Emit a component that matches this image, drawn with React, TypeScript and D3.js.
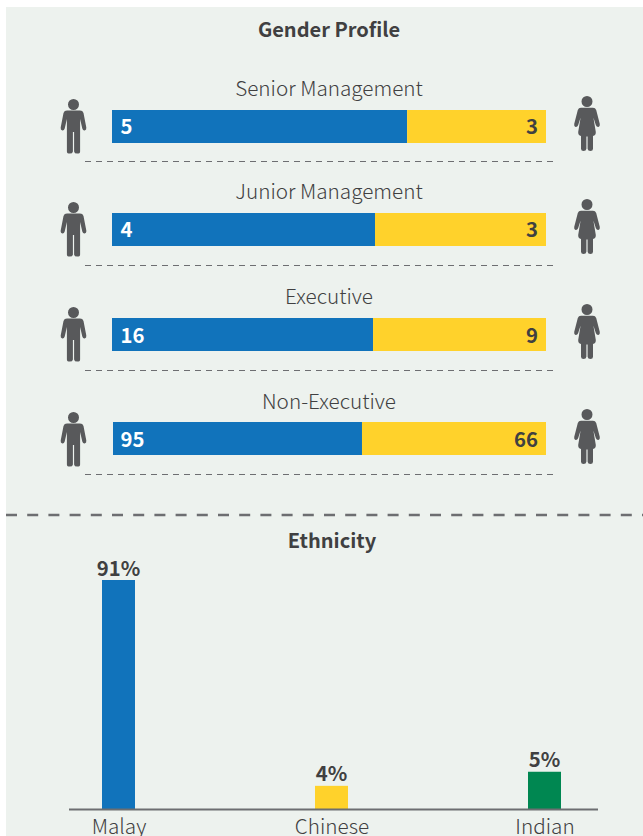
import React from "react";
import * as d3 from "d3";

const FONT = "'Noto Sans CJK SC','Noto Sans',sans-serif";
const INK = "#404041";
const ICON = "#58595b";
const BLUE = "#1173bb";
const YELLOW = "#ffd22b";
const GREEN = "#008751";
const BG = "#edf2ee";

const roles = ["Senior Management", "Junior Management", "Executive", "Non-Executive"];
const maleCounts = [5, 4, 16, 95];
const femaleCounts = [3, 3, 9, 66];
// Share of the bar drawn blue (the source is not to scale)
const maleBarShare = [68, 60.6, 60.15, 57.6];
const barTops = [110, 213, 318, 422];
const roleBaselines = [96, 199, 304, 409];
const valueBaselines = [134, 237, 343, 447];
const iconTops = [99, 202, 307, 412];
const ruleYs = [161.5, 265.5, 370.5, 474.5];

const ethnicities = ["Malay", "Chinese", "Indian"];
const ethnicityLabels = ["91%", "4%", "5%"];
// Drawn bar levels (the source is not to scale)
const ethnicityLevels = [91, 9.2, 14.8];
const ethnicityColors = [BLUE, YELLOW, GREEN];

const HEAD = "M0 0a5.5 5.5 0 1 1 0 11a5.5 5.5 0 1 1 0 -11Z";
const MAN =
  HEAD +
  "M-6.5 11.6H6.5Q9.2 11.6 10 14L12.8 28.5Q13.2 31 11.2 31.4Q9.4 31.6 8.8 29.4L6.6 20V52.4Q6.6 54.6 3.6 54.6Q.9 54.6 .6 52.4V33H-.6V52.4Q-.9 54.6 -3.6 54.6Q-6.6 54.6 -6.6 52.4V20L-8.8 29.4Q-9.4 31.6 -11.2 31.4Q-13.2 31 -12.8 28.5L-10 14Q-9.2 11.6 -6.500 11.6Z";
const WOMAN =
  HEAD +
  "M-6 11.8H6Q8.4 11.8 9.2 14L12.8 28Q13.2 30.6 11.4 31Q9.6 31.2 8.8 29L6.4 21.5L8.8 36Q9 39.6 6 40V52.8Q6 55 3.4 55Q.9 55 .6 52.8V40.4H-.6V52.8Q-.9 55 -3.4 55Q-6 55 -6 52.8V40Q-9 39.6 -8.8 36L-6.4 21.5L-8.8 29Q-9.600 31.2 -11.4 31Q-13.2 30.6 -12.800 28L-9.2 14Q-8.4 11.800 -6 11.8Z";

export default function App() {
  const x = d3.scaleLinear().domain([0, 100]).range([112, 546]);
  const band = d3.scaleBand<string>().domain(ethnicities).range([12, 651]);
  const y = d3.scaleLinear().domain([0, 91]).range([809, 580]);

  return (
    <svg
      width={643}
      height={836}
      viewBox="0 0 643 836"
      style={{ position: "absolute", left: 0, top: 0, display: "block", fontFamily: FONT }}
    >
      <rect x={6} y={7} width={637} height={829} fill={BG} />
      <text x={329} y={37} textAnchor="middle" fontSize={20} fontWeight={700} fill={INK}>
        Gender Profile
      </text>

      {roles.map((role, i) => {
        const top = barTops[i];
        const split = x(maleBarShare[i]);
        const left = i === 3 ? 113 : x(0);
        return (
          <g key={role}>
            <text x={329} y={roleBaselines[i]} textAnchor="middle" fontSize={20.7} fontWeight={300} fill={INK}>
              {role}
            </text>
            <rect x={left} y={top} width={split - left} height={33} fill={BLUE} />
            <rect x={split} y={top} width={x(100) - split} height={33} fill={YELLOW} />
            <text x={120.5} y={valueBaselines[i]} fontSize={20.3} fontWeight={700} fill="#ffffff">
              {maleCounts[i]}
            </text>
            <text x={538} y={valueBaselines[i]} textAnchor="end" fontSize={20.3} fontWeight={700} fill={INK}>
              {femaleCounts[i]}
            </text>
            <path d={MAN} transform={`translate(73.5,${iconTops[i]})`} fill={ICON} />
            <path d={WOMAN} transform={`translate(587,${iconTops[i] - 3})`} fill={ICON} />
            <line x1={85} x2={556} y1={ruleYs[i]} y2={ruleYs[i]} stroke="#6d6e71" strokeWidth={1.2} strokeDasharray="6 5" />
          </g>
        );
      })}

      <line x1={6} x2={643} y1={515} y2={515} stroke="#6d6e71" strokeWidth={2.6} strokeDasharray="11 10.2" />

      <text x={332} y={548} textAnchor="middle" fontSize={20} fontWeight={700} fill={INK}>
        Ethnicity
      </text>

      {ethnicities.map((name, i) => {
        const c = (band(name) as number) + band.bandwidth() / 2;
        const top = y(ethnicityLevels[i]);
        return (
          <g key={name}>
            <rect x={c - 16.5} y={top} width={33} height={809 - top} fill={ethnicityColors[i]} />
            <text x={c} y={top - 4.5} textAnchor="middle" fontSize={20.3} fontWeight={700} fill={INK}>
              {ethnicityLabels[i]}
            </text>
            <text x={c + 0.5} y={834} textAnchor="middle" fontSize={20.7} fontWeight={300} fill={INK}>
              {name}
            </text>
          </g>
        );
      })}
      <line x1={69} x2={598} y1={809.5} y2={809.5} stroke="#6d6e71" strokeWidth={2} />
    </svg>
  );
}
